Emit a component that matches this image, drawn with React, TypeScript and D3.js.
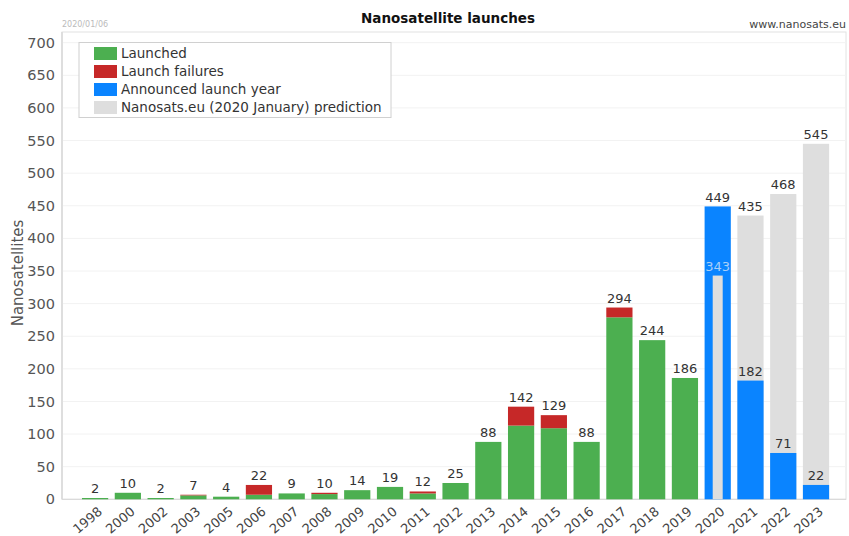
import React from "react";
import * as d3 from "d3";

const years = ["1998","2000","2002","2003","2005","2006","2007","2008","2009","2010","2011","2012","2013","2014","2015","2016","2017","2018","2019","2020","2021","2022","2023"];
const launched = [2,10,2,6,4,7,9,8,14,19,9,25,88,113,109,88,279,244,186,0,0,0,0];
const failures = [0,0,0,1,0,15,0,2,0,0,3,0,0,29,20,0,15,0,0,0,0,0,0];
const announced = [0,0,0,0,0,0,0,0,0,0,0,0,0,0,0,0,0,0,0,449,182,71,22];
const prediction = [0,0,0,0,0,0,0,0,0,0,0,0,0,0,0,0,0,0,0,343,435,468,545];
const yTicks = [0,50,100,150,200,250,300,350,400,450,500,550,600,650,700];
const legendItems = ["Launched","Launch failures","Announced launch year","Nanosats.eu (2020 January) prediction"];

const W = 849, H = 536;
const FONT = "'DejaVu Sans', sans-serif";
const C_GREEN = "#4caf50", C_RED = "#c62828", C_BLUE = "#0a84ff", C_GRAY = "#dedede";
const legendColors = [C_GREEN, C_RED, C_BLUE, C_GRAY];

export default function App() {
  const x = d3.scaleBand<string>().domain(years).range([78.7, 832.4]).paddingInner(0.2).paddingOuter(0.1);
  const y = d3.scaleLinear().domain([0, 700]).range([499.3, 42.7]);
  const bw = x.bandwidth();
  const txt = "#333";

  return (
    <svg width={W} height={H} style={{ position: "absolute", left: 0, top: 0, background: "#fff" }} fontFamily={FONT}>
      {/* frame */}
      <rect x={62} y={32} width={784} height={467.3} fill="none" stroke="#e2e2e2" strokeWidth={1} />
      {yTicks.filter(t => t > 0).map(t => (
        <line key={t} x1={62} x2={846} y1={y(t)} y2={y(t)} stroke="#f2f2f2" strokeWidth={1} />
      ))}
      <line x1={62} x2={846} y1={y(0)} y2={y(0)} stroke="#d8d8d8" strokeWidth={1} />
      <line x1={62} x2={62} y1={32} y2={y(0)} stroke="#d8d8d8" strokeWidth={1.5} />

      {/* y ticks */}
      {yTicks.map(t => (
        <text key={t} x={55} y={y(t)} dy="0.35em" textAnchor="end" fontSize={14.5} fill="#555">{t}</text>
      ))}
      <text transform={`translate(23,273) rotate(-90)`} textAnchor="middle" fontSize={15} fill="#555">Nanosatellites</text>

      {/* title */}
      <text x={448} y={23} textAnchor="middle" fontSize={13.5} fontWeight="bold" fill="#111">Nanosatellite launches</text>
      <text x={846} y={28} textAnchor="end" fontSize={11} fill="#444">www.nanosats.eu</text>
      <text x={62} y={27} fontSize={8} fill="#bbb">2020/01/06</text>

      {/* bars */}
      {years.map((yr, i) => {
        const x0 = x(yr) as number;
        const cx = x0 + bw / 2;
        const els: React.ReactNode[] = [];
        const tot = launched[i] + failures[i];
        if (tot > 0) {
          els.push(<rect key="g" x={x0} y={y(launched[i])} width={bw} height={y(0) - y(launched[i])} fill={C_GREEN} />);
          if (failures[i] > 0)
            els.push(<rect key="r" x={x0} y={y(tot)} width={bw} height={y(launched[i]) - y(tot)} fill={C_RED} />);
          els.push(<text key="t" x={cx} y={y(tot) - 5} textAnchor="middle" fontSize={13} fill={txt}>{tot}</text>);
        }
        if (announced[i] > 0) {
          if (announced[i] >= prediction[i]) {
            els.push(<rect key="b" x={x0} y={y(announced[i])} width={bw} height={y(0) - y(announced[i])} fill={C_BLUE} />);
            els.push(<rect key="p" x={cx - 5} y={y(prediction[i])} width={10} height={y(0) - y(prediction[i])} fill={C_GRAY} />);
            els.push(<text key="tb" x={cx} y={y(announced[i]) - 4} textAnchor="middle" fontSize={13} fill={txt}>{announced[i]}</text>);
            els.push(<text key="tp" x={cx} y={y(prediction[i]) - 5} textAnchor="middle" fontSize={13} fill="#a9cff8">{prediction[i]}</text>);
          } else {
            els.push(<rect key="p" x={x0} y={y(prediction[i])} width={bw} height={y(0) - y(prediction[i])} fill={C_GRAY} />);
            els.push(<rect key="b" x={x0} y={y(announced[i])} width={bw} height={y(0) - y(announced[i])} fill={C_BLUE} />);
            els.push(<text key="tp" x={cx} y={y(prediction[i]) - 5} textAnchor="middle" fontSize={13} fill={txt}>{prediction[i]}</text>);
            els.push(<text key="tb" x={cx} y={y(announced[i]) - 5} textAnchor="middle" fontSize={13} fill={txt}>{announced[i]}</text>);
          }
        }
        els.push(
          <text key="xl" transform={`translate(${cx + 8},${513}) rotate(-40)`} textAnchor="end" fontSize={13} fill="#444">{yr}</text>
        );
        return <g key={yr}>{els}</g>;
      })}

      {/* legend */}
      <rect x={79} y={42.5} width={312} height={75} fill="#fff" stroke="#d0d0d0" strokeWidth={1} />
      {legendItems.map((l, i) => (
        <g key={l} transform={`translate(94,${47 + i * 18})`}>
          <rect x={0} y={0} width={23} height={13} fill={legendColors[i]} />
          <text x={27} y={6.5} dy="0.35em" fontSize={13.5} fill={txt}>{l}</text>
        </g>
      ))}
    </svg>
  );
}
